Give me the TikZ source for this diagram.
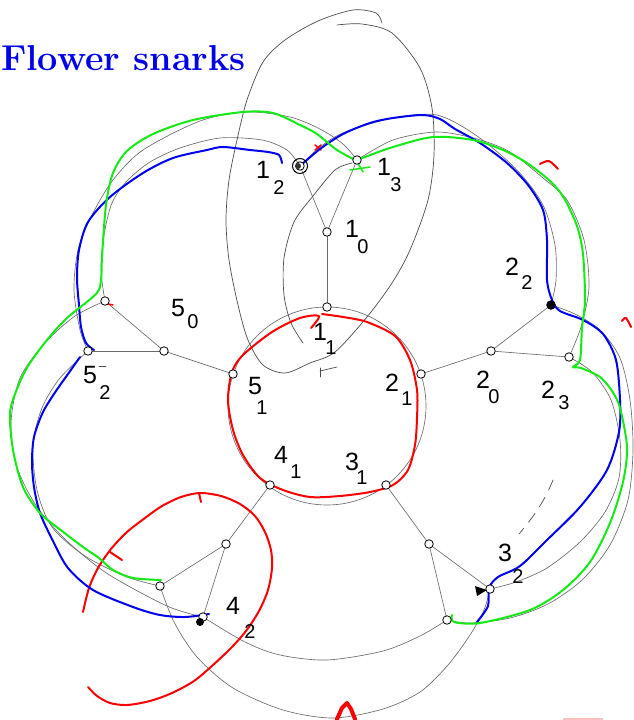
\documentclass[tikz,border=0pt]{standalone}
\usepackage{fontspec}
\newfontfamily\hand{Liberation Sans}
\definecolor{pblue}{RGB}{0,0,240}
\definecolor{pgreen}{RGB}{20,235,20}
\definecolor{pred}{RGB}{250,0,0}
\definecolor{ttl}{RGB}{0,0,235}
\begin{document}
\begin{tikzpicture}[x=1pt,y=-1pt,
  gl/.style={draw=black!58, line width=0.65pt},
  fh/.style={draw=black!70, line width=0.7pt, line cap=round, line join=round},
  vx/.style={circle, draw=black, fill=white, line width=0.8pt, inner sep=0pt, minimum size=8.5pt},
  bl/.style={draw=pblue, line width=2pt, line cap=round, line join=round},
  gr/.style={draw=pgreen, line width=2pt, line cap=round, line join=round},
  rd/.style={draw=pred, line width=2pt, line cap=round, line join=round},
  lab/.style={font=\hand\fontsize{25}{25}\selectfont, inner sep=0pt, text=black},
  sublab/.style={font=\hand\fontsize{20}{20}\selectfont, inner sep=0pt, text=black}]
\useasboundingbox (0,0) rectangle (633,720);

% vertex positions
\coordinate (p10) at (327,232); \coordinate (p11) at (327,307); \coordinate (p12) at (300,166); \coordinate (p13) at (357,160);
\coordinate (p20) at (491,351); \coordinate (p21) at (421,374); \coordinate (p22) at (551,305); \coordinate (p23) at (569,357);
\coordinate (p30) at (429,544); \coordinate (p31) at (386,485); \coordinate (p32) at (490,589); \coordinate (p33) at (447,620);
\coordinate (p40) at (226,544); \coordinate (p41) at (270,485); \coordinate (p42) at (203,617); \coordinate (p43) at (160,586);
\coordinate (p50) at (164,351); \coordinate (p51) at (233,374); \coordinate (p52) at (88,351); \coordinate (p53) at (105,301);
\coordinate (cc) at (327,406);

% gray graph
\draw[gl] (cc) circle[radius=99pt];
\foreach \k in {1,...,5}{
  \draw[gl] (p\k0) -- (p\k1);
  \draw[gl] (p\k0) -- (p\k2);
  \draw[gl] (p\k0) -- (p\k3);
}
% outer arcs
\draw[gl] plot[smooth] coordinates {(p53) (101,270) (104,235) (112,203) (127,181) (150,162) (180,148) (220,138) (262,140) (287,150) (p12)};
\draw[gl] plot[smooth] coordinates {(p52) (80,330) (74,290) (78,250) (92,215) (113,180) (143,150) (200,121) (247,112) (290,117) (320,129) (343,144) (p13)};
\draw[gl] plot[smooth] coordinates {(p12) (320,147) (345,132) (393,118) (437,115) (477,136) (517,170) (543,205) (555,245) (556,280) (p22)};
\draw[gl] plot[smooth] coordinates {(p13) (393,140) (437,132) (477,139) (510,152) (543,178) (567,200) (584,240) (589,287) (581,327) (p23)};
\draw[gl] plot[smooth] coordinates {(p22) (575,314) (600,330) (620,358) (630,400) (633,450) (628,500) (610,545) (582,580) (548,604) (510,618) (470,623) (p33)};
\draw[gl] plot[smooth] coordinates {(p23) (592,372) (611,400) (620,440) (619,478) (605,512) (580,542) (547,568) (516,582) (p32)};
\draw[gl] plot[smooth] coordinates {(p33) (420,636) (383,651) (327,660) (280,655) (245,642) (p42)};
\draw[gl] plot[smooth] coordinates {(p32) (484,610) (470,635) (448,665) (420,692) (383,709) (333,718) (283,710) (233,688) (197,657) (174,622) (p43)};
\draw[gl] plot[smooth] coordinates {(p43) (127,577) (85,556) (52,527) (37,490) (33,445) (42,408) (60,378) (p52)};
\draw[gl] plot[smooth] coordinates {(p42) (167,606) (108,574) (67,541) (37,507) (17,467) (11,423) (20,378) (45,343) (75,316) (p53)};

% freehand loop and lines
\draw[fh] plot[smooth] coordinates {(382,23) (376,13) (353,10) (318,21) (285,40) (263,62) (247,100) (237,140) (229,180) (226,220) (229,260) (238,305) (248,340) (263,365) (285,373) (310,363) (335,352) (367,317) (392,283) (410,250) (428,200) (434,155) (432,108) (420,68) (392,33) (362,24) (337,25)};
\draw[fh] plot[smooth] coordinates {(352,163) (335,170) (313,196) (294,222) (284,258) (284,295) (291,323) (303,343)};
\draw[fh] (320,368) -- (320,377);
\draw[fh] (320,371) -- (337,367);
\draw[fh, dash pattern=on 11pt off 8pt] (553,480) .. controls (545,500) and (535,515) .. (519,534);
\draw[fh] (99,366) -- (106,366);

% red strokes
\draw[rd] plot[smooth] coordinates {(311,328) (319,316) (300,318) (272,332) (243,355) (232,372) (228,400) (233,430) (243,455) (260,478) (283,490) (310,497) (340,496) (370,492) (393,485) (408,470) (415,445) (417,418) (417,390) (410,360) (395,336) (367,322) (343,317) (322,314)};
\draw[rd] plot[smooth] coordinates {(83,612) (89,588) (98,568) (111,549) (127,532) (145,518) (162,506) (181,497) (200,493) (221,496) (240,504) (255,516) (265,532) (271,550) (272,568) (268,590) (259,611) (246,631) (231,648) (213,665) (194,681) (172,693) (150,701) (127,705) (110,703) (97,696) (88,687)};
\draw[rd] (199,493) -- (201,502);
\draw[rd] (110,552) -- (122,560);
\draw[rd] plot[smooth] coordinates {(540,164) (549,161) (558,169)};
\draw[rd] plot[smooth] coordinates {(622,321) (626,318) (631,327)};
\draw[rd, line width=1.5pt] (315,145) -- (321,150) (315,150) -- (321,145);
\draw[rd, line width=1.5pt] (108,304) -- (113,305);
\draw[rd, line width=4pt] (337,719) -- (342,708) -- (347,703) -- (351,709) -- (355,719);
\draw[draw=pred, opacity=0.25, line width=3pt] (563,719) -- (603,719);

% blue strokes
\draw[bl] plot[smooth] coordinates {(282,163) (279,155) (268,152) (250,150) (223,147) (207,150) (173,158) (143,173) (110,197) (88,222) (79,250) (77,278) (79,305) (81,327) (86,343) (94,350)};
\draw[bl] plot[smooth] coordinates {(80,357) (68,374) (56,391) (43,412) (34,437) (32,462) (34,487) (40,513) (53,541) (68,568) (93,590) (133,607) (160,615) (185,617) (209,614)};
\draw[bl] plot[smooth] coordinates {(p12) (320,149) (343,134) (370,123) (393,118) (423,115) (440,119) (455,129) (480,143) (507,163) (528,185) (543,210) (547,240) (547,280) (552,300) (560,311) (583,320) (603,334) (616,360) (620,400) (619,432) (607,470) (580,507) (547,540) (520,566) (498,577) (489,588) (488,606) (477,622)};

% green strokes
\draw[gr] plot[smooth] coordinates {(161,580) (133,578) (113,570) (99,558) (83,547) (62,531) (40,513) (23,487) (13,450) (10,413) (17,389) (28,366) (47,340) (67,318) (96,294) (101,280) (102,257) (106,205) (113,173) (127,151) (153,134) (193,120) (243,112) (273,113) (300,125) (317,134) (337,150) (357,161)};
\draw[gr, line width=1.5pt] (350,170) -- (370,167) (356,160) -- (363,172);
\draw[gr] plot[smooth] coordinates {(357,160) (365,157) (393,147) (433,137) (473,140) (503,150) (527,163) (550,181) (564,198) (577,226) (583,254) (585,300) (582,328) (580,360) (573,367) (581,368) (600,377) (612,391) (620,408) (627,447) (623,482) (610,523) (590,562) (563,590) (530,610) (480,623) (454,622) (452,615)};

% vertices
\foreach \k in {1,...,5}{
  \foreach \j in {0,...,3}{
    \node[vx] (v\k\j) at (p\k\j) {};
  }
}
% pen marks on vertices
\draw[black, line width=1pt] (p12) circle[radius=7.5pt];
\fill[black!80] (298,166) circle[radius=3pt];
\fill[black] (p22) circle[radius=4.5pt];
\fill[black] (200,622) circle[radius=4pt];
\fill[black] (475,586) -- (487,590) -- (477,596) -- cycle;

% handwritten labels
\node[lab] (l12) at (263,170) {1}; \node[sublab] (l12s) at (279,188) {2};
\node[lab] (l13) at (384,167) {1}; \node[sublab] (l13s) at (396,185) {3};
\node[lab] (l10) at (352,229) {1}; \node[sublab] (l10s) at (363,247) {0};
\node[lab] (l11) at (320,332) {1}; \node[sublab] (l11s) at (331,348) {1};
\node[lab] (l22) at (512,267) {2}; \node[sublab] (l22s) at (527,283) {2};
\node[lab] (l21) at (392,383) {2}; \node[sublab] (l21s) at (407,399) {1};
\node[lab] (l20) at (483,380) {2}; \node[sublab] (l20s) at (494,397) {0};
\node[lab] (l23) at (548,390) {2}; \node[sublab] (l23s) at (564,403) {3};
\node[lab] (l31) at (352,462) {3}; \node[sublab] (l31s) at (362,478) {1};
\node[lab] (l32) at (505,553) {3}; \node[sublab] (l32s) at (518,577) {2};
\node[lab] (l41) at (281,455) {4}; \node[sublab] (l41s) at (296,472) {1};
\node[lab] (l42) at (233,606) {4}; \node[sublab] (l42s) at (250,632) {2};
\node[lab] (l51) at (255,386) {5}; \node[sublab] (l51s) at (262,408) {1};
\node[lab] (l52) at (90,375) {5}; \node[sublab] (l52s) at (105,393) {2};
\node[lab] (l50) at (178,308) {5}; \node[sublab] (l50s) at (193,322) {0};

% title
\node[anchor=base west, inner sep=0pt, text=ttl, font=\fontsize{36}{42}\selectfont\bfseries] (title) at (1,70) {Flower snarks};
\end{tikzpicture}
\end{document}
